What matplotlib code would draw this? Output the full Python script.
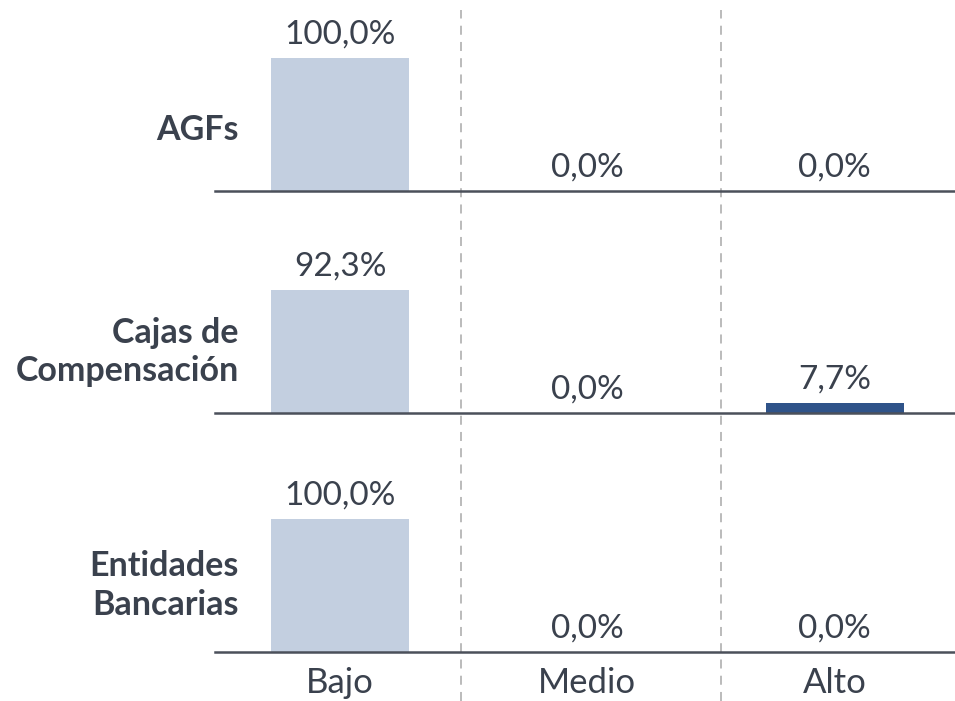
import matplotlib
matplotlib.use("Agg")
import matplotlib.pyplot as plt

categories = ["Bajo", "Medio", "Alto"]
groups = ["AGFs", "Cajas de\nCompensación", "Entidades\nBancarias"]
values = [
    [100.0, 0.0, 0.0],
    [92.3, 0.0, 7.7],
    [100.0, 0.0, 0.0],
]
bar_colors = ["#c3cfe0", "#c3cfe0", "#2f5389"]
text_color = "#3a414d"

plt.rcParams['font.family'] = ['Lato', 'DejaVu Sans']

W, H = 955, 701
fig = plt.figure(figsize=(W / 100, H / 100), dpi=100)

x0 = -0.506
x1 = 2.487
left = 215 / W
width = 740 / W

# overlay for dashed separators
ov = fig.add_axes([left, 0, width, 1 - 10 / H])
ov.set_xlim(x0, x1)
ov.set_ylim(0, 1)
ov.axis("off")
for xs in [0.489, 1.541]:
    ov.axvline(xs, color="#b5b5b5", lw=1.3, ls=(0, (5, 4)))

baselines = [191, 413, 652]
label_y = [0.46, 0.46, 0.50]
px_per_unit = 133  # pixels per 100%
ymax = 1.35
ax_h = ymax * px_per_unit

for i, (g, vals) in enumerate(zip(groups, values)):
    b = baselines[i]
    ax = fig.add_axes([left, 1 - b / H, width, ax_h / H])
    ax.patch.set_alpha(0)
    ax.set_xlim(x0, x1)
    ax.set_ylim(0, ymax)
    xs = range(len(categories))
    ax.bar(xs, [v / 100 for v in vals], width=0.558, color=bar_colors)
    for x, v in zip(xs, vals):
        ax.annotate(f"{v:.1f}".replace(".", ",") + "%", (x, v / 100),
                    xytext=(0, 6), textcoords="offset points",
                    ha="center", va="bottom", fontsize=24, color=text_color)
    for s in ["top", "right", "left"]:
        ax.spines[s].set_visible(False)
    ax.spines["bottom"].set_color("#4b505a")
    ax.spines["bottom"].set_linewidth(1.8)
    ax.set_yticks([])
    if i == len(groups) - 1:
        ax.set_xticks(list(xs))
        ax.set_xticklabels(categories, fontsize=25, color=text_color)
        ax.tick_params(axis="x", length=0, pad=11)
    else:
        ax.set_xticks([])
    ax.text(-0.41, label_y[i], g, ha="right", va="center", fontsize=24.5,
            fontweight="bold", color=text_color, linespacing=1.25,
            transform=ax.transData, clip_on=False)

fig.savefig("out.png", dpi=100)
